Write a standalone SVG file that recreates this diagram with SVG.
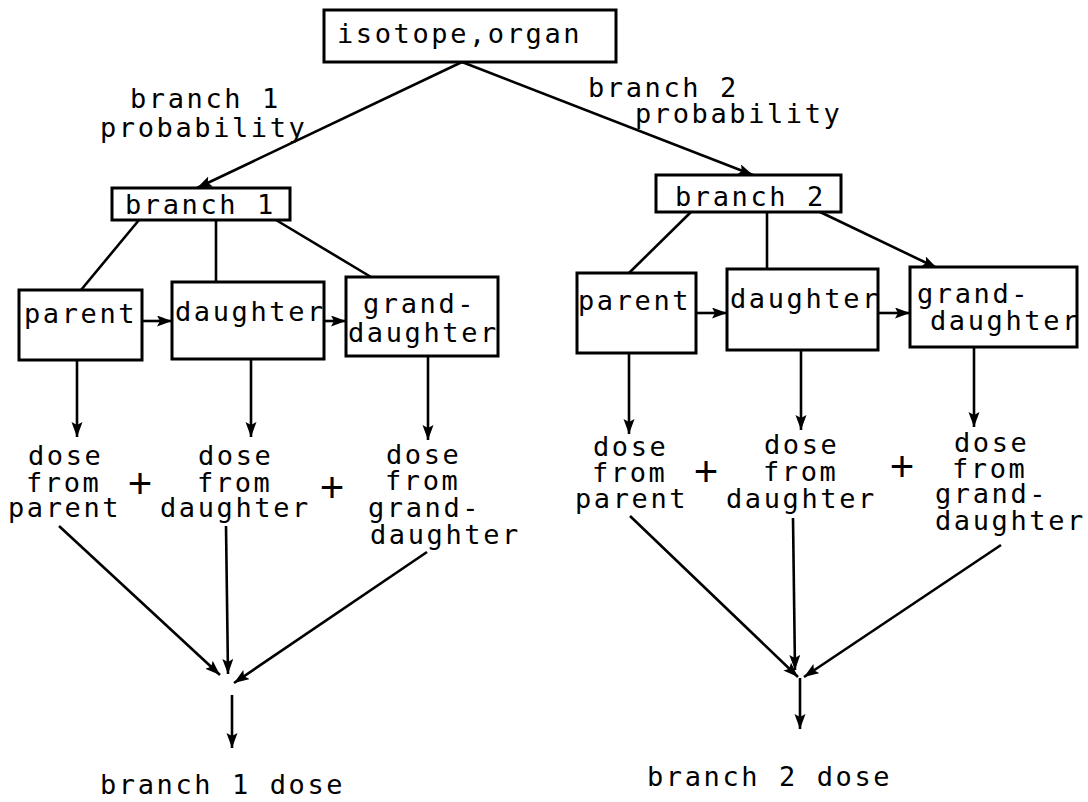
<svg xmlns="http://www.w3.org/2000/svg" width="1088" height="802" viewBox="0 0 1088 802">
  <style>
    .box { fill: #fff; stroke: #000; stroke-width: 3; }
    .lbl { font-family: "DejaVu Sans Mono", "Liberation Mono", monospace; font-size: 27px; letter-spacing: 2.6px; fill: #000; }
    .plus { font-family: "Liberation Sans", "DejaVu Sans", sans-serif; font-size: 42px; fill: #000; text-anchor: middle; }
    .ln { stroke: #000; stroke-width: 2.6; fill: none; }
    .arr { stroke: #000; stroke-width: 2.6; fill: none; marker-end: url(#head); }
  </style>
  <defs>
    <marker id="head" markerUnits="userSpaceOnUse" markerWidth="16" markerHeight="12" refX="15" refY="5.5" orient="auto">
      <path d="M0,0 L15,5.5 L0,11 L3,5.5 z" fill="#000"/>
    </marker>
  </defs>
  <rect width="1088" height="802" fill="#fff"/>

  <!-- connectors -->
  <g id="connectors">
    <!-- root to branches -->
    <line class="arr" x1="462" y1="62" x2="197" y2="188"/>
    <line class="arr" x1="462" y1="62" x2="753" y2="175"/>
    <!-- branch 1 to nuclides -->
    <line class="ln" x1="139" y1="220" x2="81" y2="290"/>
    <line class="ln" x1="216" y1="220" x2="216" y2="282"/>
    <line class="ln" x1="276" y1="220" x2="371" y2="277"/>
    <!-- branch 2 to nuclides -->
    <line class="ln" x1="691" y1="212" x2="629" y2="273"/>
    <line class="ln" x1="767" y1="212" x2="767" y2="269"/>
    <line class="arr" x1="818" y1="211" x2="937" y2="268"/>
    <!-- decay chain, branch 1 -->
    <line class="arr" x1="142" y1="321" x2="172" y2="321"/>
    <line class="arr" x1="324" y1="321" x2="346" y2="321"/>
    <!-- decay chain, branch 2 -->
    <line class="arr" x1="696" y1="313" x2="727" y2="313"/>
    <line class="arr" x1="878" y1="313" x2="910" y2="313"/>
    <!-- nuclide to dose, branch 1 -->
    <line class="arr" x1="77" y1="360" x2="77" y2="437"/>
    <line class="arr" x1="251" y1="359" x2="251" y2="437"/>
    <line class="arr" x1="428" y1="356" x2="428" y2="440"/>
    <!-- nuclide to dose, branch 2 -->
    <line class="arr" x1="629" y1="353" x2="629" y2="434"/>
    <line class="arr" x1="801" y1="350" x2="801" y2="430"/>
    <line class="arr" x1="974" y1="347" x2="974" y2="427"/>
    <!-- summation, branch 1 -->
    <line class="arr" x1="59" y1="526" x2="220" y2="675"/>
    <line class="arr" x1="226" y1="526" x2="228" y2="674"/>
    <line class="arr" x1="427" y1="552" x2="234" y2="683"/>
    <line class="arr" x1="232" y1="695" x2="232" y2="748"/>
    <!-- summation, branch 2 -->
    <line class="arr" x1="630" y1="516" x2="798" y2="677"/>
    <line class="arr" x1="793" y1="518" x2="795" y2="670"/>
    <line class="arr" x1="1001" y1="545" x2="804" y2="677"/>
    <line class="arr" x1="800" y1="678" x2="800" y2="729"/>
  </g>

  <g id="root">
    <rect class="box" x="324" y="10" width="292" height="52"/>
    <text class="lbl" x="337" y="43">isotope,organ</text>
  </g>

  <g id="prob1">
    <text class="lbl" x="130" y="108">branch 1</text>
    <text class="lbl" x="100" y="137">probability</text>
  </g>
  <g id="prob2">
    <text class="lbl" x="588" y="97">branch 2</text>
    <text class="lbl" x="635" y="123">probability</text>
  </g>

  <g id="branch1">
    <rect class="box" x="112" y="188" width="178" height="32"/>
    <text class="lbl" x="125" y="214">branch 1</text>
  </g>
  <g id="branch2">
    <rect class="box" x="656" y="175" width="185" height="37"/>
    <text class="lbl" x="675" y="206">branch 2</text>
  </g>

  <g id="parent1">
    <rect class="box" x="19" y="290" width="123" height="70"/>
    <text class="lbl" x="24" y="323">parent</text>
  </g>
  <g id="daughter1">
    <rect class="box" x="172" y="282" width="152" height="77"/>
    <text class="lbl" x="175" y="321">daughter</text>
  </g>
  <g id="granddaughter1">
    <rect class="box" x="346" y="277" width="152" height="79"/>
    <text class="lbl" x="363" y="313">grand-</text>
    <text class="lbl" x="348" y="342">daughter</text>
  </g>

  <g id="parent2">
    <rect class="box" x="577" y="273" width="119" height="80"/>
    <text class="lbl" x="578" y="310">parent</text>
  </g>
  <g id="daughter2">
    <rect class="box" x="727" y="269" width="151" height="81"/>
    <text class="lbl" x="730" y="308">daughter</text>
  </g>
  <g id="granddaughter2">
    <rect class="box" x="910" y="267" width="167" height="80"/>
    <text class="lbl" x="917" y="303">grand-</text>
    <text class="lbl" x="930" y="330">daughter</text>
  </g>

  <g id="dose-parent1">
    <text class="lbl" x="28" y="465">dose</text>
    <text class="lbl" x="26" y="492">from</text>
    <text class="lbl" x="8" y="517">parent</text>
  </g>
  <text class="plus" x="140" y="498">+</text>
  <g id="dose-daughter1">
    <text class="lbl" x="198" y="465">dose</text>
    <text class="lbl" x="197" y="492">from</text>
    <text class="lbl" x="160" y="517">daughter</text>
  </g>
  <text class="plus" x="332" y="502">+</text>
  <g id="dose-granddaughter1">
    <text class="lbl" x="386" y="464">dose</text>
    <text class="lbl" x="385" y="490">from</text>
    <text class="lbl" x="368" y="517">grand-</text>
    <text class="lbl" x="370" y="544">daughter</text>
  </g>

  <g id="dose-parent2">
    <text class="lbl" x="593" y="456">dose</text>
    <text class="lbl" x="592" y="482">from</text>
    <text class="lbl" x="575" y="508">parent</text>
  </g>
  <text class="plus" x="706" y="486">+</text>
  <g id="dose-daughter2">
    <text class="lbl" x="764" y="454">dose</text>
    <text class="lbl" x="763" y="481">from</text>
    <text class="lbl" x="726" y="508">daughter</text>
  </g>
  <text class="plus" x="902" y="481">+</text>
  <g id="dose-granddaughter2">
    <text class="lbl" x="954" y="452">dose</text>
    <text class="lbl" x="952" y="478">from</text>
    <text class="lbl" x="935" y="503">grand-</text>
    <text class="lbl" x="935" y="530">daughter</text>
  </g>

  <g id="total1">
    <text class="lbl" x="100" y="794">branch 1 dose</text>
  </g>
  <g id="total2">
    <text class="lbl" x="647" y="786">branch 2 dose</text>
  </g>
</svg>
